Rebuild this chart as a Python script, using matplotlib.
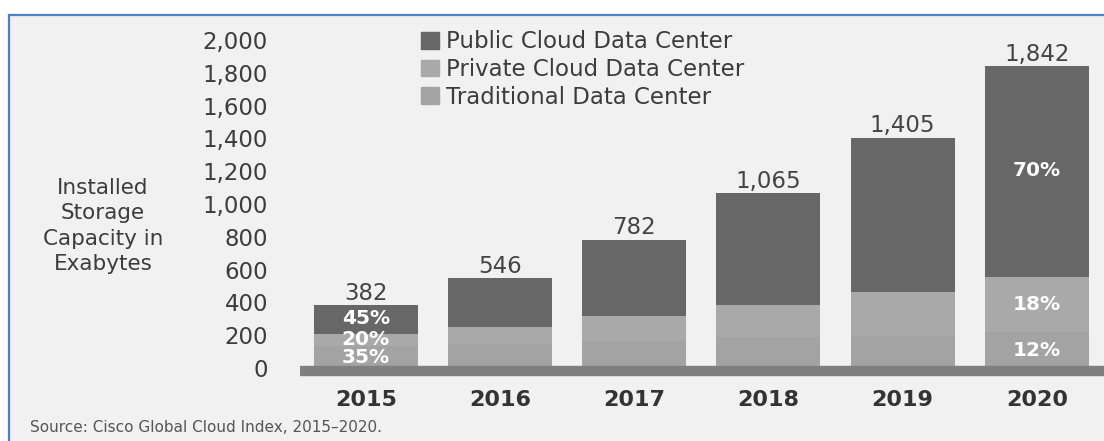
import matplotlib.pyplot as plt
import matplotlib.patches as mpatches
import numpy as np

# data (exabytes)
years = ["2015", "2016", "2017", "2018", "2019", "2020"]
totals = [382, 546, 782, 1065, 1405, 1842]
traditional = [134, 146, 164, 189, 195, 221]
private = [76, 104, 153, 195, 268, 332]
public = [172, 296, 465, 681, 942, 1289]
pct_labels = {0: ["35%", "20%", "45%"], 5: ["12%", "18%", "70%"]}
yticks = [0, 200, 400, 600, 800, 1000, 1200, 1400, 1600, 1800, 2000]

c_public = "#676767"
c_private = "#a9a9a9"
c_trad = "#a3a3a3"
c_text = "#3c3c3c"
bg = "#f1f1f1"

plt.rcParams["font.family"] = ["DejaVu Sans"]

W, H = 1104, 441
fig = plt.figure(figsize=(W / 100, H / 100), dpi=100, facecolor="white")

# panel with blue border on top/left
fig.patches.append(mpatches.Rectangle((9 / W, -0.1), 1.2, (H - 15) / H + 0.1,
                                      transform=fig.transFigure, facecolor=bg,
                                      edgecolor="#4f7fc4", lw=1.6, zorder=-5))

# axes placement in pixels
y0_px, y2000_px = 368, 40
ymin = -60
scale = (y0_px - y2000_px) / 2000
bottom_px = y0_px - ymin * scale
ax = fig.add_axes([300 / W, (H - bottom_px) / H, (W - 300) / W, (bottom_px - y2000_px) / H])
ax.set_facecolor("none")
ax.set_ylim(ymin, 2000)
ax.set_xlim(-0.49, 5.5)

x = np.arange(len(years))
w = 0.775
tr = np.array(traditional)
pr = np.array(private)
pu = np.array(public)
ax.bar(x, tr, w, color=c_trad, zorder=2)
ax.bar(x, pr, w, bottom=tr, color=c_private, zorder=2)
ax.bar(x, pu, w, bottom=tr + pr, color=c_public, zorder=2)

# baseline band
ax.axhspan(-45, 10, color="#7f7f7f", zorder=3)

for xi, t in zip(x, totals):
    ax.text(xi, t + 72, f"{t:,}", ha="center", va="center", fontsize=16.5, color="#444444")

for i, labs in pct_labels.items():
    centers = [tr[i] / 2 - 5, tr[i] + pr[i] / 2, tr[i] + pr[i] + pu[i] / 2 + 5]
    for c, lab in zip(centers, labs):
        ax.text(x[i], c, lab, ha="center", va="center", fontsize=14.5,
                fontweight="bold", color="white", zorder=4)

ax.set_yticks(yticks)
ax.set_yticklabels([f"{v:,}" for v in yticks], fontsize=16.5, color=c_text)
ax.tick_params(axis="y", length=0, pad=23)
ax.set_xticks(x)
ax.set_xticklabels(years, fontsize=16, fontweight="bold", color="#333333")
ax.tick_params(axis="x", length=0, pad=9)
for s in ax.spines.values():
    s.set_visible(False)

fig.text(103 / W, 1 - 226 / H, "Installed\nStorage\nCapacity in\nExabytes",
         ha="center", va="center", fontsize=15.5, color=c_text, linespacing=1.35)

handles = [mpatches.Patch(color=c_public), mpatches.Patch(color=c_private),
           mpatches.Patch(color=c_trad)]
fig.legend(handles, ["Public Cloud Data Center", "Private Cloud Data Center",
                     "Traditional Data Center"],
           loc="upper left", bbox_to_anchor=(410 / W, 1 - 19 / H), frameon=False,
           fontsize=16.5, labelcolor=c_text, handlelength=0.75, handleheight=0.75,
           handletextpad=0.3, labelspacing=0.2, borderpad=0)

fig.text(30 / W, 1 - 428 / H, "Source: Cisco Global Cloud Index, 2015\u20132020.",
         ha="left", va="center", fontsize=11, color="#555555")

fig.savefig("out.png", dpi=100, facecolor=fig.get_facecolor())
